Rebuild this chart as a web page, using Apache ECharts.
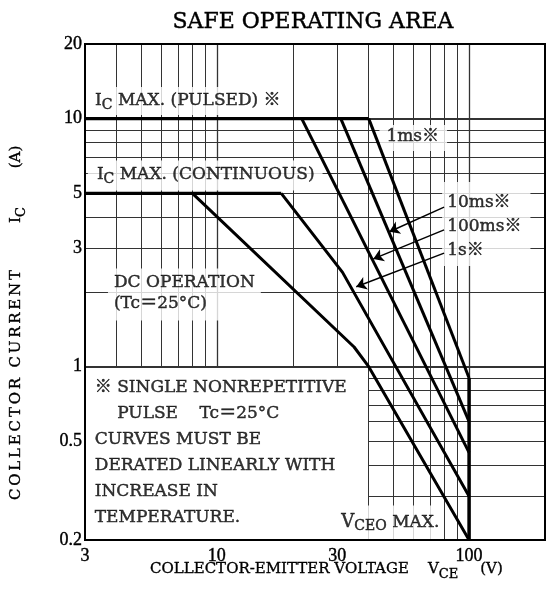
<!DOCTYPE html>
<html><head><meta charset="utf-8">
<script src="https://cdn.jsdelivr.net/npm/echarts@6/dist/echarts.min.js"></script>
<style>html,body{margin:0;padding:0;background:#fff}#c{width:547px;height:604px}</style>
</head><body><div id="c"></div>
<script>
// ---- data ----
const xTicks = [3, 10, 30, 100];
const yTicks = [0.2, 0.5, 1, 3, 5, 10, 20];
const xGrid = [4, 5, 6, 7, 8, 9, 10, 20, 30, 40, 50, 60, 70, 80, 90, 100];
const yGrid = [0.3, 0.4, 0.5, 0.6, 0.7, 0.8, 0.9, 1, 2, 3, 4, 5, 6, 7, 8, 9, 10];
const icPulsed = [[3, 10], [40, 10]];
const icCont = [[3, 5], [18, 5]];
const curve1ms = [[40, 10], [100, 0.9]];
const curve10ms = [[31, 10], [100, 0.6]];
const curve100ms = [[21.7, 10], [100, 0.45]];
const curve1s = [[18, 5], [31.5, 2.4], [100, 0.3]];
const curveDC = [[8, 5], [35, 1.2], [40, 1], [100, 0.2]];
const vceoMax = [[100, 0.9], [100, 0.2]];
const arrows = [
  [[79.6, 4.4], [48.3, 3.5]],
  [[79.6, 3.56], [41.7, 2.72]],
  [[79.6, 2.87], [35.7, 2.1]]
];

// ---- styling ----
const FF = '"DejaVu Serif", "Noto Sans CJK JP", serif';
const TF = '"Liberation Serif", serif';
const FS = 17;
const BW = 0.45;
function mk(lh) {
  const b = { textBorderColor: '#000', textBorderWidth: BW };
  return {
    n: Object.assign({ fontFamily: FF, fontSize: FS, color: '#000', verticalAlign: 'top', lineHeight: lh }, b),
    s: Object.assign({ fontFamily: FF, fontSize: 14, color: '#000', verticalAlign: 'top', lineHeight: lh - 4, padding: [6, 0, 0, 0] }, b),
    v: Object.assign({ fontFamily: FF, fontSize: 18, color: '#000', verticalAlign: 'top', lineHeight: lh }, b)
  };
}
const fmt = v => String(+(+v).toPrecision(6));

const gridSegs = [];
xGrid.forEach(x => gridSegs.push({ coords: [[x, x < 40 ? 1 : 0.2], [x, 20]], lineStyle: { width: (x === 10 || x === 100) ? 1.3 : 1 } }));
yGrid.forEach(y => gridSegs.push({ coords: [[y < 1 ? 40 : 3, y], [200, y]], lineStyle: { width: (y === 1 || y === 10) ? 1.8 : 1 } }));

function annot(pos, text, pad, bg, lh) {
  return {
    value: pos,
    label: {
      show: true, position: 'right', distance: 0, formatter: text, rich: mk(lh || 20),
      fontFamily: FF, fontSize: FS, color: '#000',
      backgroundColor: bg ? '#fff' : 'transparent', padding: pad
    }
  };
}

const annotations = [
  annot([3.03, 11.78], '{n|I}{s|C}{n| MAX. (PULSED) ※}', [5, 12, 3, 9], true),
  annot([3.08, 5.9], '{n|I}{s|C}{n| MAX. (CONTINUOUS)}', [6, 8, 4, 9], true),
  annot([44.1, 8.36], '{n|1ms※}', [3, 8, 3, 7], true),
  annot([78.2, 3.761], '{n|10ms※}\n{n|100ms※}\n{n|1s※}', [12, 9, 0, 5], true, 24),
  annot([3.70, 1.953], '{n|DC OPERATION}\n{n|(Tc＝25°C)}', [6, 6, 4, 6], true, 21),
  annot([3.28, 0.43], '{n|※ SINGLE NONREPETITIVE}\n{n|　 PULSE    Tc＝25°C}\n{n|CURVES MUST BE}\n{n|DERATED LINEARLY WITH}\n{n|INCREASE IN}\n{n|TEMPERATURE.}', [0, 0, 0, 0], false, 26),
  annot([29.5, 0.234], '{v|V}{s|CEO}{n| MAX.}', [8, 4, 7, 6], true)
];

function curve(data, w) {
  return { type: 'line', data: data, showSymbol: false, symbol: 'none', z: 6, silent: true,
    lineStyle: { color: '#000', width: w || 3 }, animation: false };
}
const tb = { stroke: '#000', lineWidth: 0.35 };
const titleRich = {
  t: Object.assign({ fontFamily: FF, fontSize: 15, fill: '#000', verticalAlign: 'top', lineHeight: 18 }, tb),
  g: Object.assign({ fontFamily: FF, fontSize: 15, fill: '#000', verticalAlign: 'top', lineHeight: 18, padding: [0, 0, 0, 22] }, tb),
  u: Object.assign({ fontFamily: FF, fontSize: 13, fill: '#000', verticalAlign: 'top', lineHeight: 16, padding: [6, 0, 0, 0] }, tb),
  c: Object.assign({ fontFamily: FF, fontSize: 15, fill: '#000', verticalAlign: 'top', lineHeight: 18, padding: [0, 1.4, 0, 1.4] }, tb)
};
const spaced = s => s.split('').map(ch => '{c|' + ch + '}').join('');

const chart = echarts.init(document.getElementById('c'), null, { renderer: 'canvas' });
chart.setOption({
  animation: false,
  backgroundColor: '#fff',
  grid: { left: 85, top: 44, right: 2, bottom: 64, show: true, borderColor: '#000', borderWidth: 2, z: 10, backgroundColor: 'transparent' },
  xAxis: {
    type: 'log', logBase: 10, min: 3, max: 200,
    axisLine: { show: false }, axisTick: { show: false }, splitLine: { show: false },
    axisLabel: { customValues: xTicks, formatter: fmt, margin: 7, fontFamily: TF, fontSize: 18, color: '#000', textBorderColor: '#000', textBorderWidth: 0.4 }
  },
  yAxis: {
    type: 'log', logBase: 10, min: 0.2, max: 20,
    axisLine: { show: false }, axisTick: { show: false }, splitLine: { show: false },
    axisLabel: { customValues: yTicks, formatter: fmt, margin: 3, fontFamily: TF, fontSize: 18, color: '#000', textBorderColor: '#000', textBorderWidth: 0.4 }
  },
  graphic: [
    { type: 'text', x: 313, y: 22, z: 20, style: { text: 'SAFE OPERATING AREA', font: '22px "DejaVu Serif", serif', fill: '#000', stroke: '#000', lineWidth: 0.4, align: 'center', verticalAlign: 'middle' } },
    { type: 'text', x: 150, y: 571, z: 20, style: { text: '{t|COLLECTOR-EMITTER VOLTAGE    V}{u|CE}{g|(V)}', align: 'left', verticalAlign: 'middle', rich: titleRich } },
    { type: 'text', x: 18, y: 385, rotation: Math.PI / 2, z: 20, style: { text: spaced('COLLECTOR CURRENT'), align: 'center', verticalAlign: 'middle', rich: titleRich } },
    { type: 'text', x: 18, y: 215, rotation: Math.PI / 2, z: 20, style: { text: '{t|I}{u|C}', align: 'center', verticalAlign: 'middle', rich: titleRich } },
    { type: 'text', x: 18, y: 157, rotation: Math.PI / 2, z: 20, style: { text: '{t|(A)}', align: 'center', verticalAlign: 'middle', rich: titleRich } }
  ],
  series: [
    { type: 'lines', coordinateSystem: 'cartesian2d', z: 1, silent: true, animation: false,
      lineStyle: { color: '#333', width: 1, opacity: 1 }, data: gridSegs },
    { type: 'scatter', symbolSize: 0, z: 4, silent: true, animation: false, data: annotations },
    curve(icPulsed, 3.2), curve(icCont, 3.2), curve(curve1ms), curve(curve10ms), curve(curve100ms),
    curve(curve1s), curve(curveDC), curve(vceoMax, 3.5),
    { type: 'lines', coordinateSystem: 'cartesian2d', z: 7, silent: true, animation: false,
      symbol: ['none', 'arrow'], symbolSize: 10,
      lineStyle: { color: '#000', width: 1.5, opacity: 1 },
      data: arrows.map(a => ({ coords: a })) }
  ]
});
</script>
</body></html>
